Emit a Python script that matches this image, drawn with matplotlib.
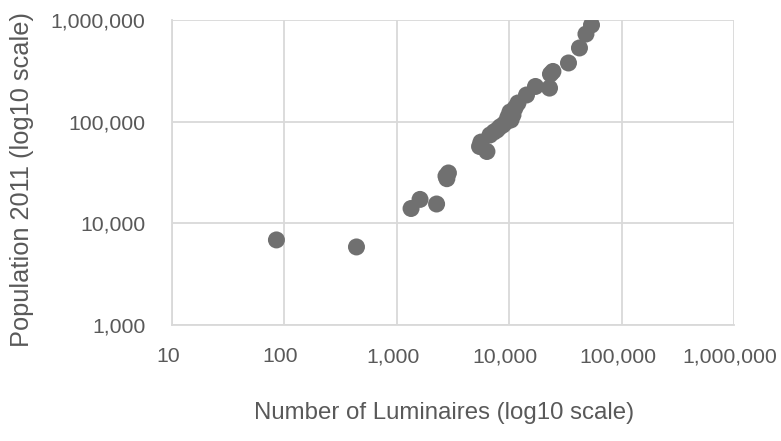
import matplotlib.pyplot as plt
import matplotlib.transforms as mtransforms
from matplotlib.ticker import FuncFormatter, FixedLocator

# values (log-log scatter)
luminaires = [85, 438, 1340, 1610, 2260, 2740, 2880, 2790,
              5450, 5610, 6340, 6750, 7320, 7790, 8280, 8810, 9370,
              9750, 10160, 10810, 11270, 11970, 10370,
              14260, 17140, 22850, 23300, 24500, 33700, 42200, 48200, 54000]
population = [6870, 5860, 14000, 17200, 15500, 29200, 31300, 27500,
              57000, 63000, 50900, 74000, 79200, 82800, 88700, 92800, 99300,
              111000, 124500, 116400, 136400, 152700, 104000,
              183000, 222000, 214000, 294000, 312000, 378000, 531000, 728000, 893000]

x_ticks = [10, 100, 1000, 10000, 100000, 1000000]
y_ticks = [1000, 10000, 100000, 1000000]

GRID = '#d9d9d9'
TEXT = '#595959'
DOT = '#707070'

fig = plt.figure(figsize=(7.81, 4.41), dpi=100)
ax = fig.add_axes([0.2202, 0.263, 0.7196, 0.6916])

ax.scatter(luminaires, population, s=150, color=DOT, edgecolors='none', zorder=3)

ax.set_xscale('log')
ax.set_yscale('log')
ax.set_xlim(10, 1e6)
ax.set_ylim(1e3, 1e6)
ax.xaxis.set_major_locator(FixedLocator(x_ticks))
ax.yaxis.set_major_locator(FixedLocator(y_ticks))
ax.xaxis.set_minor_locator(FixedLocator([]))
ax.yaxis.set_minor_locator(FixedLocator([]))
fmt = FuncFormatter(lambda v, p: f'{int(round(v)):,}')
ax.xaxis.set_major_formatter(fmt)
ax.yaxis.set_major_formatter(fmt)

ax.grid(True, color=GRID, linewidth=1.3, zorder=0)
ax.set_axisbelow(True)
for side in ['top', 'right']:
    ax.spines[side].set_visible(False)
for side in ['left', 'bottom']:
    ax.spines[side].set_color(GRID)
    ax.spines[side].set_linewidth(1.3)

ax.tick_params(length=0, labelsize=15.3, labelcolor=TEXT)
ax.tick_params(axis='x', pad=16)
ax.tick_params(axis='y', pad=19)
for lab in ax.get_xticklabels() + ax.get_yticklabels():
    lab.set_family('Liberation Sans')
# nudge x tick labels a little left, as in the original
shift = mtransforms.ScaledTranslation(-4 / 100, 0, fig.dpi_scale_trans)
for lab in ax.get_xticklabels():
    lab.set_transform(lab.get_transform() + shift)

fig.text(0.028, 0.592, 'Population 2011 (log10 scale)', rotation=90,
         ha='center', va='center', fontsize=18.3, color=TEXT, family='Liberation Sans')
fig.text(0.568, 0.0635, 'Number of Luminaires (log10 scale)',
         ha='center', va='center', fontsize=17.3, color=TEXT, family='Liberation Sans')

fig.savefig('out.png', dpi=100)
